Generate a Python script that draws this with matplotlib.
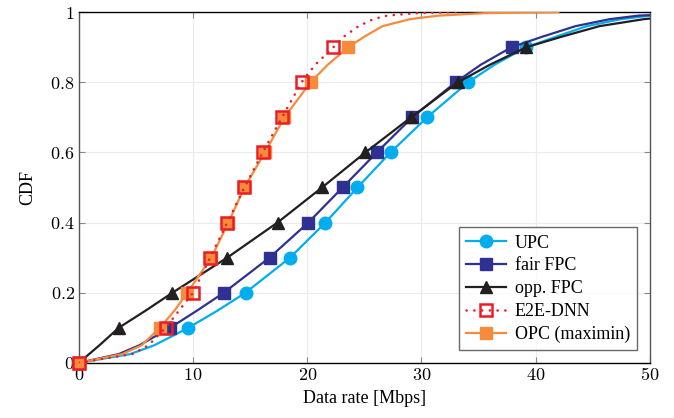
import matplotlib
matplotlib.use("Agg")
import matplotlib.pyplot as plt
from matplotlib.ticker import FuncFormatter

plt.rcParams['font.family'] = ['Liberation Serif', 'DejaVu Serif']
plt.rcParams['mathtext.fontset'] = 'cm'

# CDF levels shared by all curves
levels = [0, 0.025, 0.05, 0.1, 0.15, 0.2, 0.3, 0.4, 0.5, 0.6, 0.7, 0.8, 0.85, 0.9,
          0.93, 0.96, 0.98, 0.99, 0.997, 1.0]
mark_idx = [0, 3, 5, 6, 7, 8, 9, 10, 11, 13]  # marks at 0, 0.1, ..., 0.9

# data rate [Mbps] at each CDF level
upc = [0, 4.5, 6.6, 9.6, 12.2, 14.6, 18.5, 21.6, 24.4, 27.3, 30.5, 34.1, 36.4, 39.2,
       41.8, 44.5, 47.5, 50, 56, 70]
fair_fpc = [0, 3.5, 5.3, 8.0, 10.4, 12.7, 16.7, 20.1, 23.1, 26.1, 29.2, 33.0, 35.2, 37.9,
            40.6, 43.5, 46.5, 49, 54, 70]
opp_fpc = [0, 0.9, 1.8, 3.5, 5.9, 8.2, 13.0, 17.4, 21.3, 25.1, 29.1, 33.2, 36.0, 39.2,
           42.3, 45.6, 49.5, 53, 60, 70]
e2e_dnn = [0, 4.7, 6.1, 7.6, 8.8, 10.0, 11.5, 13.0, 14.5, 16.1, 17.8, 19.5, 20.7, 22.3,
           23.2, 24.5, 25.8, 27, 29.5, 33]
opc = [0, 3.8, 5.5, 7.1, 8.4, 9.5, 11.6, 13.1, 14.5, 16.3, 18.0, 20.3, 21.8, 23.6,
       25.0, 26.6, 29.0, 31.5, 35.5, 42]

fig = plt.figure(figsize=(6.74, 4.18), dpi=100)
ax = fig.add_axes([0.117, 0.132, 0.847, 0.839])

styles = [
    (upc, 'UPC', dict(color='#00aeef', lw=1.6, marker='o', ms=9, zorder=3)),
    (fair_fpc, 'fair FPC', dict(color='#2e3192', lw=1.6, marker='s', ms=9, zorder=4)),
    (opp_fpc, 'opp. FPC', dict(color='#231f20', lw=1.6, marker='^', ms=9, zorder=5)),
    (e2e_dnn, 'E2E-DNN', dict(color='#ed1c24', lw=1.8, ls=(0, (0.1, 3)),
                              dash_capstyle='round', marker='s', ms=8, mfc='none',
                              mew=1.8, zorder=7)),
    (opc, 'OPC (maximin)', dict(color='#f68b3c', lw=1.6, marker='s', ms=9, zorder=6)),
]

handles = []
for xs, name, st in styles:
    h, = ax.plot(xs, levels, markevery=mark_idx[1:], label=name, **st)
    handles.append(h)
    # mark at the origin drawn unclipped
    mst = {k: v for k, v in st.items() if k not in ('ls', 'lw', 'dash_capstyle')}
    ax.plot(xs[:1], levels[:1], ls='none', clip_on=False, **mst)

ax.set_xlim(0, 50)
ax.set_ylim(0, 1)
ax.set_xticks([0, 10, 20, 30, 40, 50])
ax.set_yticks([0, 0.2, 0.4, 0.6, 0.8, 1])
fmt = FuncFormatter(lambda v, p: '$%g$' % v)
ax.xaxis.set_major_formatter(fmt)
ax.yaxis.set_major_formatter(fmt)
ax.tick_params(direction='in', length=4, color='#888888', labelsize=13,
               top=True, right=True, pad=3)
ax.grid(True, color='#ebebeb', lw=0.8)
ax.set_axisbelow(True)
for s in ['top', 'bottom']:
    ax.spines[s].set_color('black')
for s in ['left', 'right']:
    ax.spines[s].set_color('#555555')
for s in ax.spines.values():
    s.set_linewidth(1.0)

ax.set_xlabel('Data rate [Mbps]', fontsize=13, labelpad=4)
ax.set_ylabel('CDF', fontsize=13, labelpad=10)

leg = ax.legend(handles=handles, loc='lower right',
                fontsize=13, frameon=True, fancybox=False, edgecolor='#444444',
                handlelength=2.2, borderaxespad=0.7, labelspacing=0.32,
                borderpad=0.4, handletextpad=0.5)
leg.get_frame().set_linewidth(1.0)

plt.savefig('out.png', dpi=100)
plt.close()
